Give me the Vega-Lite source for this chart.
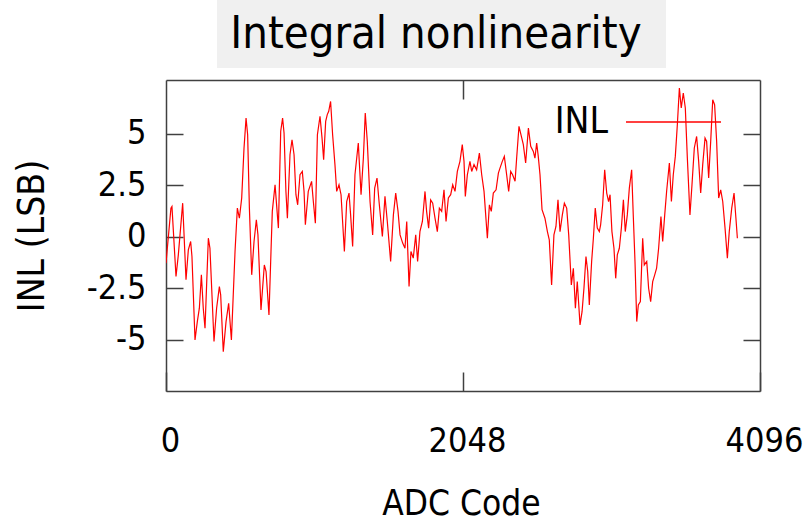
{
  "$schema": "https://vega.github.io/schema/vega-lite/v6.json",
  "width": 594,
  "height": 311,
  "autosize": {"type": "none"},
  "padding": {"left": 166, "top": 80, "right": 45, "bottom": 131},
  "background": "white",
  "config": {
    "view": {"stroke": null},
    "font": "DejaVu Sans Condensed, Liberation Sans, sans-serif"
  },
  "title": {
    "text": "Integral nonlinearity",
    "fontSize": 45,
    "fontWeight": "normal",
    "color": "#000000",
    "anchor": "middle",
    "frame": "group",
    "dx": -27,
    "baseline": "alphabetic",
    "offset": -93,
    "zindex": 1
  },
  "datasets": {
    "inl": [
      {"code":0,"INL":-1.29},{"code":34,"INL":1.38},{"code":41,"INL":1.46},{"code":69,"INL":-1.94},{"code":85,"INL":-0.89},{"code":115,"INL":1.62},{"code":138,"INL":-2.10},{"code":154,"INL":-0.65},{"code":170,"INL":-0.24},{"code":179,"INL":-0.97},{"code":200,"INL":-5.02},{"code":216,"INL":-4.13},{"code":230,"INL":-3.48},{"code":244,"INL":-1.86},{"code":257,"INL":-3.48},{"code":269,"INL":-4.45},{"code":292,"INL":-0.08},{"code":303,"INL":-0.57},{"code":331,"INL":-5.10},{"code":349,"INL":-3.48},{"code":368,"INL":-2.43},{"code":377,"INL":-2.83},{"code":395,"INL":-5.59},{"code":414,"INL":-4.13},{"code":432,"INL":-3.24},{"code":451,"INL":-5.02},{"code":476,"INL":-0.73},{"code":492,"INL":1.38},{"code":506,"INL":0.89},{"code":522,"INL":1.87},{"code":538,"INL":4.30},{"code":552,"INL":5.75},{"code":563,"INL":4.94},{"code":575,"INL":1.38},{"code":591,"INL":-1.86},{"code":607,"INL":-0.24},{"code":623,"INL":0.81},{"code":634,"INL":0.08},{"code":655,"INL":-3.56},{"code":678,"INL":-1.38},{"code":690,"INL":-1.70},{"code":710,"INL":-3.81},{"code":724,"INL":-0.73},{"code":733,"INL":1.22},{"code":752,"INL":2.51},{"code":775,"INL":0.41},{"code":791,"INL":5.11},{"code":804,"INL":5.75},{"code":814,"INL":5.03},{"code":827,"INL":2.19},{"code":837,"INL":0.89},{"code":855,"INL":3.97},{"code":869,"INL":4.70},{"code":883,"INL":3.97},{"code":896,"INL":2.03},{"code":908,"INL":1.54},{"code":924,"INL":3.00},{"code":940,"INL":3.16},{"code":952,"INL":2.19},{"code":961,"INL":0.57},{"code":981,"INL":2.19},{"code":1004,"INL":2.68},{"code":1016,"INL":1.70},{"code":1030,"INL":0.65},{"code":1044,"INL":4.94},{"code":1062,"INL":5.84},{"code":1076,"INL":4.78},{"code":1087,"INL":3.73},{"code":1101,"INL":5.59},{"code":1112,"INL":5.92},{"code":1122,"INL":6.08},{"code":1135,"INL":6.56},{"code":1149,"INL":4.94},{"code":1165,"INL":3.49},{"code":1177,"INL":2.19},{"code":1193,"INL":2.51},{"code":1207,"INL":2.03},{"code":1230,"INL":-0.73},{"code":1246,"INL":1.70},{"code":1262,"INL":2.11},{"code":1273,"INL":1.05},{"code":1287,"INL":-0.48},{"code":1303,"INL":3.00},{"code":1326,"INL":4.54},{"code":1345,"INL":2.03},{"code":1361,"INL":3.81},{"code":1374,"INL":6.00},{"code":1388,"INL":4.62},{"code":1407,"INL":1.70},{"code":1425,"INL":0.08},{"code":1439,"INL":2.35},{"code":1455,"INL":2.84},{"code":1469,"INL":1.70},{"code":1492,"INL":0.00},{"code":1510,"INL":1.95},{"code":1526,"INL":0.73},{"code":1549,"INL":-1.21},{"code":1568,"INL":1.05},{"code":1584,"INL":2.11},{"code":1600,"INL":1.22},{"code":1614,"INL":0.08},{"code":1632,"INL":-0.32},{"code":1648,"INL":-0.57},{"code":1660,"INL":0.73},{"code":1676,"INL":-2.43},{"code":1689,"INL":-0.73},{"code":1705,"INL":-1.05},{"code":1722,"INL":0.08},{"code":1735,"INL":-1.21},{"code":1751,"INL":0.24},{"code":1768,"INL":0.73},{"code":1786,"INL":2.19},{"code":1797,"INL":1.22},{"code":1811,"INL":0.41},{"code":1825,"INL":1.78},{"code":1839,"INL":1.62},{"code":1855,"INL":0.89},{"code":1871,"INL":0.24},{"code":1885,"INL":1.38},{"code":1901,"INL":1.22},{"code":1917,"INL":2.27},{"code":1931,"INL":0.73},{"code":1947,"INL":1.87},{"code":1963,"INL":2.03},{"code":1977,"INL":2.51},{"code":1993,"INL":2.19},{"code":2009,"INL":3.16},{"code":2027,"INL":3.65},{"code":2043,"INL":4.46},{"code":2055,"INL":3.65},{"code":2064,"INL":1.95},{"code":2078,"INL":3.00},{"code":2096,"INL":3.65},{"code":2108,"INL":3.16},{"code":2124,"INL":3.49},{"code":2142,"INL":3.24},{"code":2161,"INL":4.05},{"code":2177,"INL":3.00},{"code":2193,"INL":2.19},{"code":2216,"INL":-0.08},{"code":2230,"INL":1.54},{"code":2243,"INL":1.22},{"code":2257,"INL":2.11},{"code":2276,"INL":2.27},{"code":2292,"INL":3.08},{"code":2303,"INL":3.32},{"code":2319,"INL":3.65},{"code":2333,"INL":3.89},{"code":2349,"INL":3.00},{"code":2363,"INL":2.19},{"code":2377,"INL":3.16},{"code":2390,"INL":3.00},{"code":2407,"INL":2.68},{"code":2418,"INL":3.81},{"code":2434,"INL":5.35},{"code":2448,"INL":4.94},{"code":2464,"INL":4.46},{"code":2480,"INL":3.57},{"code":2499,"INL":5.27},{"code":2515,"INL":4.38},{"code":2533,"INL":4.13},{"code":2544,"INL":3.81},{"code":2556,"INL":4.54},{"code":2567,"INL":3.89},{"code":2579,"INL":3.00},{"code":2593,"INL":1.30},{"code":2613,"INL":0.89},{"code":2630,"INL":0.24},{"code":2643,"INL":-0.16},{"code":2659,"INL":-2.35},{"code":2675,"INL":0.08},{"code":2689,"INL":0.49},{"code":2703,"INL":1.78},{"code":2717,"INL":0.24},{"code":2733,"INL":1.05},{"code":2747,"INL":1.62},{"code":2763,"INL":1.38},{"code":2777,"INL":0.08},{"code":2795,"INL":-2.35},{"code":2809,"INL":-1.54},{"code":2823,"INL":-3.48},{"code":2836,"INL":-2.19},{"code":2855,"INL":-4.29},{"code":2869,"INL":-3.65},{"code":2882,"INL":-2.51},{"code":2896,"INL":-0.97},{"code":2908,"INL":-1.70},{"code":2919,"INL":-3.32},{"code":2935,"INL":-1.21},{"code":2947,"INL":-0.08},{"code":2960,"INL":1.38},{"code":2974,"INL":0.41},{"code":2988,"INL":0.24},{"code":2997,"INL":0.57},{"code":3011,"INL":1.54},{"code":3025,"INL":3.24},{"code":3039,"INL":2.11},{"code":3052,"INL":1.70},{"code":3062,"INL":2.03},{"code":3075,"INL":0.24},{"code":3089,"INL":-0.57},{"code":3101,"INL":-2.03},{"code":3112,"INL":-0.89},{"code":3126,"INL":-0.57},{"code":3140,"INL":0.41},{"code":3154,"INL":1.78},{"code":3167,"INL":0.24},{"code":3181,"INL":1.05},{"code":3195,"INL":2.35},{"code":3211,"INL":3.24},{"code":3222,"INL":1.05},{"code":3234,"INL":-1.21},{"code":3246,"INL":-4.13},{"code":3257,"INL":-3.32},{"code":3271,"INL":-3.16},{"code":3287,"INL":-0.08},{"code":3298,"INL":-1.38},{"code":3315,"INL":-1.21},{"code":3328,"INL":-2.51},{"code":3342,"INL":-3.16},{"code":3356,"INL":-2.19},{"code":3370,"INL":-1.86},{"code":3383,"INL":-1.54},{"code":3397,"INL":-0.57},{"code":3413,"INL":0.97},{"code":3425,"INL":-0.24},{"code":3439,"INL":1.05},{"code":3452,"INL":2.19},{"code":3471,"INL":3.57},{"code":3485,"INL":1.70},{"code":3498,"INL":3.00},{"code":3512,"INL":3.89},{"code":3526,"INL":5.43},{"code":3540,"INL":7.21},{"code":3553,"INL":6.24},{"code":3567,"INL":6.97},{"code":3581,"INL":6.24},{"code":3595,"INL":3.81},{"code":3613,"INL":1.05},{"code":3627,"INL":2.51},{"code":3643,"INL":4.30},{"code":3659,"INL":4.86},{"code":3673,"INL":3.65},{"code":3687,"INL":2.11},{"code":3701,"INL":3.49},{"code":3717,"INL":4.78},{"code":3728,"INL":4.62},{"code":3742,"INL":2.84},{"code":3756,"INL":4.62},{"code":3770,"INL":6.64},{"code":3783,"INL":6.40},{"code":3797,"INL":4.62},{"code":3811,"INL":1.87},{"code":3825,"INL":2.27},{"code":3839,"INL":1.70},{"code":3855,"INL":0.41},{"code":3871,"INL":-1.05},{"code":3884,"INL":0.24},{"code":3901,"INL":1.38},{"code":3917,"INL":2.11},{"code":3930,"INL":0.89},{"code":3940,"INL":-0.08}
    ]
  },
  "layer": [
    {
      "data": {"values": [{}]},
      "mark": {"type": "rect", "color": "#f0f0f0", "clip": false},
      "encoding": {
        "x": {
          "datum": 352, "type": "quantitative",
          "scale": {"domain": [0, 4096], "nice": false, "zero": false},
          "axis": {
            "orient": "top", "values": [2048], "labels": false, "title": null, "grid": false,
            "tickSize": -19, "tickColor": "#404040", "tickWidth": 1.5,
            "domainColor": "#404040", "domainWidth": 1.5
          }
        },
        "x2": {"datum": 3448},
        "y": {
          "datum": 11.48, "type": "quantitative",
          "scale": {"domain": [-7.5, 7.6], "nice": false, "zero": false},
          "axis": {
            "orient": "right", "values": [-5, -2.5, 0, 2.5, 5], "labels": false, "title": null, "grid": false,
            "tickSize": -17, "tickColor": "#404040", "tickWidth": 1.5,
            "domainColor": "#404040", "domainWidth": 1.5
          }
        },
        "y2": {"datum": 8.18}
      }
    },
    {
      "data": {"name": "inl"},
      "transform": [{"fold": ["INL"], "as": ["series", "value"]}],
      "mark": {"type": "line", "strokeWidth": 1.2, "clip": true},
      "encoding": {
        "x": {
          "field": "code", "type": "quantitative",
          "scale": {"domain": [0, 4096], "nice": false, "zero": false},
          "axis": {
            "orient": "bottom", "values": [0, 2048, 4096], "format": "d", "grid": false,
            "labelFontSize": 34, "labelColor": "#000000", "labelFlush": false, "labelOffset": 4,
            "labelBaseline": "alphabetic", "labelPadding": 79.5,
            "tickSize": -19, "tickColor": "#404040", "tickWidth": 1.5,
            "domainColor": "#404040", "domainWidth": 1.5,
            "title": "ADC Code", "titleFontSize": 35, "titleFontWeight": "normal", "titleColor": "#000000",
            "titleX": 295, "titleY": 123, "titleBaseline": "alphabetic", "titleAlign": "center"
          }
        },
        "y": {
          "field": "value", "type": "quantitative",
          "scale": {"domain": [-7.5, 7.6], "nice": false, "zero": false},
          "axis": {
            "orient": "left", "values": [-5, -2.5, 0, 2.5, 5], "grid": false,
            "labelFontSize": 34, "labelColor": "#000000", "labelPadding": 37,
            "labelExpr": "datum.value",
            "tickSize": -17, "tickColor": "#404040", "tickWidth": 1.5,
            "domainColor": "#404040", "domainWidth": 1.5,
            "title": "INL (LSB)", "titleFontSize": 37, "titleFontWeight": "normal", "titleColor": "#000000",
            "titleX": -134, "titleY": 155.5, "titleAngle": 270, "titleBaseline": "middle", "titleAlign": "center"
          }
        },
        "color": {
          "field": "series", "type": "nominal",
          "scale": {"domain": ["INL"], "range": ["#ff0000"]},
          "legend": {
            "orient": "none", "legendX": 459, "legendY": -6.5, "title": null, "padding": 0,
            "symbolType": "stroke", "symbolSize": 9025, "symbolStrokeWidth": 1.5,
            "symbolStrokeColor": "#ff0000", "symbolOpacity": 1,
            "labelFontSize": 37, "labelColor": "#000000", "labelAlign": "right", "labelOffset": -114
          }
        }
      }
    }
  ],
  "resolve": {"axis": {"x": "independent", "y": "independent"}}
}
